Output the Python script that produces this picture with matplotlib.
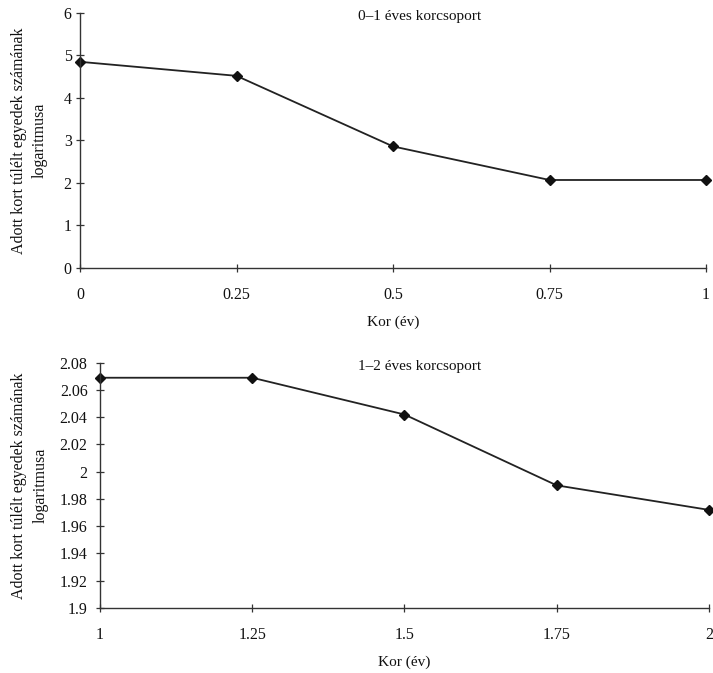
import matplotlib
matplotlib.use("Agg")
import matplotlib.pyplot as plt

plt.rcParams['font.family'] = ['Liberation Serif', 'DejaVu Serif']

x_top = [0, 0.25, 0.5, 0.75, 1]
y_top = [4.85, 4.52, 2.86, 2.07, 2.07]
x_bot = [1, 1.25, 1.5, 1.75, 2]
y_bot = [2.069, 2.069, 2.042, 1.990, 1.972]

title_top = "0–1 éves korcsoport"
title_bot = "1–2 éves korcsoport"
ylabel = "Adott kort túlélt egyedek számának\nlogaritmusa"
xlabel = "Kor (év)"

fig = plt.figure(figsize=(7.13, 6.73), dpi=100)
ax1 = fig.add_axes([0.1122, 0.6018, 0.878, 0.379])
ax2 = fig.add_axes([0.1403, 0.0966, 0.854, 0.3644])

line_col = '#222222'
spine_col = '#333333'

def style(ax, xticks, xtl, yticks, ytl, ylim, xlim, title, title_x, ylab_x, ypad):
    ax.set_xlim(*xlim)
    ax.set_ylim(*ylim)
    ax.set_xticks(xticks)
    ax.set_xticklabels(xtl)
    ax.set_yticks(yticks)
    ax.set_yticklabels(ytl)
    for s in ['top', 'right']:
        ax.spines[s].set_visible(False)
    for s in ['left', 'bottom']:
        ax.spines[s].set_color(spine_col)
        ax.spines[s].set_linewidth(1.0)
    ax.tick_params(axis='both', direction='inout', length=6, width=0.9,
                   colors=spine_col, labelcolor='#111111', labelsize=11.5)
    ax.tick_params(axis='x', pad=11)
    ax.tick_params(axis='y', pad=ypad)
    ax.set_ylabel(ylabel, fontsize=11.5, color='#111111', linespacing=1.4)
    ax.yaxis.set_label_coords(ylab_x, 0.5)
    ax.set_xlabel(xlabel, fontsize=11, color='#111111', labelpad=9)
    ax.text(title_x, 0.985, title, transform=ax.transAxes, ha='center', va='center',
            fontsize=11, color='#111111')

ax1.plot(x_top, y_top, color=line_col, lw=1.3, marker='D', markersize=5.5,
         markerfacecolor='#111111', markeredgecolor='#111111', clip_on=False)
ax2.plot(x_bot, y_bot, color=line_col, lw=1.3, marker='D', markersize=5.5,
         markerfacecolor='#111111', markeredgecolor='#111111', clip_on=False)

style(ax1, x_top, ['0', '0.25', '0.5', '0.75', '1'],
      [0, 1, 2, 3, 4, 5, 6], ['0', '1', '2', '3', '4', '5', '6'],
      (0, 6), (0, 1), title_top, 0.543, -0.051, 3)
yt = [1.9, 1.92, 1.94, 1.96, 1.98, 2.0, 2.02, 2.04, 2.06, 2.08]
style(ax2, x_bot, ['1', '1.25', '1.5', '1.75', '2'],
      yt, ['1.9', '1.92', '1.94', '1.96', '1.98', '2', '2.02', '2.04', '2.06', '2.08'],
      (1.9, 2.08), (1, 2), title_bot, 0.525, -0.085, 6)

fig.savefig("out.png", dpi=100, facecolor='white')
